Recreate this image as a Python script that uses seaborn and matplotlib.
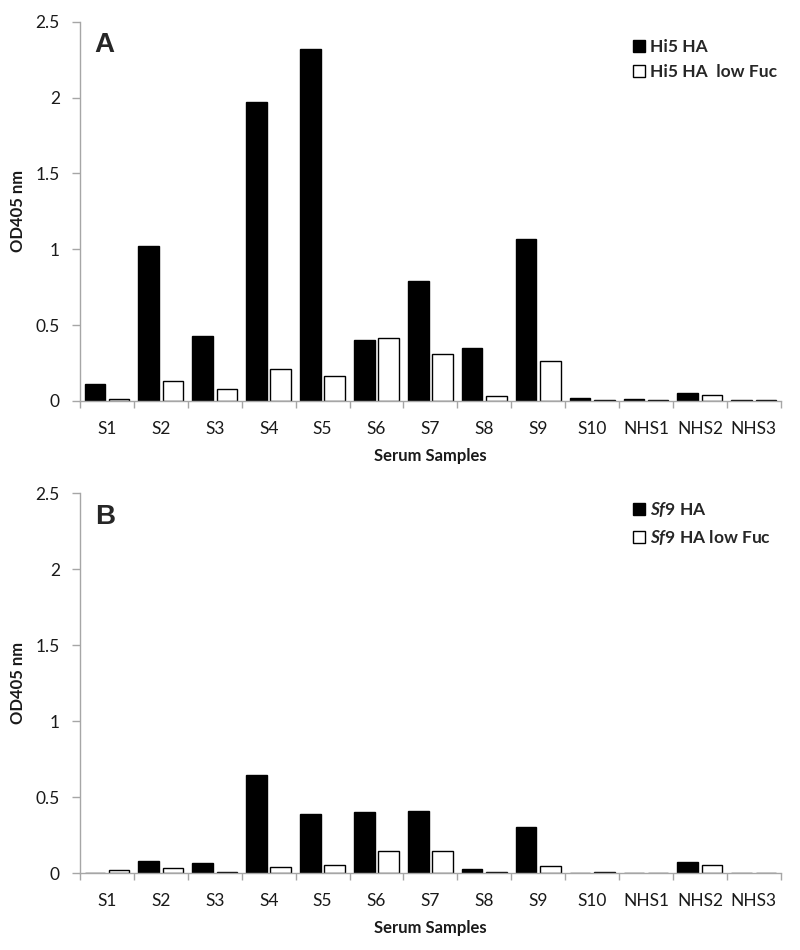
import pandas as pd
import matplotlib.pyplot as plt
import matplotlib.ticker as mticker
import seaborn as sns

# ---------------------------------------------------------
# 1. DATA
# ---------------------------------------------------------
samples = ['S1', 'S2', 'S3', 'S4', 'S5', 'S6', 'S7', 'S8', 'S9', 'S10',
           'NHS1', 'NHS2', 'NHS3']

# panel A - Hi5 HA
hi5_ha = [0.11, 1.02, 0.43, 1.97, 2.32, 0.40, 0.79, 0.35, 1.07, 0.02,
          0.01, 0.055, 0.005]
hi5_ha_lowfuc = [0.01, 0.13, 0.08, 0.21, 0.165, 0.415, 0.31, 0.03, 0.265, 0.004,
                 0.008, 0.04, 0.003]

# panel B - Sf9 HA
sf9_ha = [0.0, 0.08, 0.065, 0.645, 0.39, 0.40, 0.41, 0.025, 0.30, 0.0,
          0.003, 0.07, 0.0]
sf9_ha_lowfuc = [0.02, 0.035, 0.01, 0.04, 0.05, 0.145, 0.145, 0.008, 0.045, 0.005,
                 0.002, 0.055, 0.003]

yticks = [0, 0.5, 1, 1.5, 2, 2.5]


def long_df(a, b, name_a, name_b):
    return pd.DataFrame({
        'sample': samples * 2,
        'od': a + b,
        'series': [name_a] * len(samples) + [name_b] * len(samples),
    })


df_a = long_df(hi5_ha, hi5_ha_lowfuc, 'Hi5 HA', 'Hi5 HA  low Fuc')
df_b = long_df(sf9_ha, sf9_ha_lowfuc, '$Sf$9 HA', '$Sf$9 HA low Fuc')

# ---------------------------------------------------------
# 2. STYLE
# ---------------------------------------------------------
sns.set_style('white')
plt.rcParams['font.family'] = ['Lato', 'DejaVu Sans']
plt.rcParams['mathtext.fontset'] = 'custom'
plt.rcParams['mathtext.it'] = 'Lato:bold:italic'
plt.rcParams['mathtext.rm'] = 'Lato:bold'

axis_gray = '#a6a6a6'
text_col = '#1a1a1a'
fs = 12.5

fig = plt.figure(figsize=(8, 9.5), dpi=100, facecolor='white')
ax_a = fig.add_axes([0.1, 0.578, 0.876, 0.399])
ax_b = fig.add_axes([0.1, 0.081, 0.876, 0.400])


# ---------------------------------------------------------
# 3. DRAW
# ---------------------------------------------------------
def draw_panel(ax, df, letter, legend_y):
    sns.barplot(data=df, x='sample', y='od', hue='series',
                palette=['black', 'white'], saturation=1,
                edgecolor='black', linewidth=1.0, gap=0.15,
                width=0.9, errorbar=None, ax=ax)

    ax.set_ylim(0, 2.5)
    ax.set_xlim(-0.5, len(samples) - 0.5)
    ax.set_yticks(yticks)
    ax.yaxis.set_major_formatter(mticker.FuncFormatter(lambda v, p: f'{v:g}'))

    # excel style ticks: between categories on x
    ax.set_xticks([i - 0.5 for i in range(len(samples) + 1)], minor=True)
    ax.tick_params(axis='x', which='major', length=0, pad=14.5,
                   labelsize=fs, labelcolor=text_col)
    ax.tick_params(axis='x', which='minor', length=5, width=1,
                   color=axis_gray, direction='out', bottom=True)
    ax.tick_params(axis='y', length=6, width=1, color=axis_gray,
                   direction='out', left=True, pad=8.5,
                   labelsize=fs, labelcolor=text_col)

    for side in ['top', 'right']:
        ax.spines[side].set_visible(False)
    for side in ['left', 'bottom']:
        ax.spines[side].set_color(axis_gray)
        ax.spines[side].set_linewidth(1.0)

    ax.set_xlabel('Serum Samples', fontsize=fs - 0.5, fontweight='bold',
                  color=text_col, labelpad=8)
    ax.set_ylabel('OD405 nm', fontsize=fs - 0.5, fontweight='bold',
                  color=text_col, labelpad=7)

    ax.text(0.021, 0.972, letter, transform=ax.transAxes, fontsize=20,
            fontweight='bold', family='Liberation Sans', va='top', ha='left')

    handles, labels = ax.get_legend_handles_labels()
    ax.legend(handles, labels, loc='upper left', frameon=False,
              bbox_to_anchor=(626 / 800, legend_y), bbox_transform=fig.transFigure,
              prop={'weight': 'bold', 'size': 12.5},
              handlelength=0.7, handleheight=0.7, handletextpad=0.3,
              labelspacing=0.55, borderaxespad=0)


draw_panel(ax_a, df_a, 'A', 1 - 32 / 950)
draw_panel(ax_b, df_b, 'B', 1 - 493 / 950)

# ---------------------------------------------------------
# 4. SAVE
# ---------------------------------------------------------
plt.savefig('out.png', dpi=100, facecolor='white')
